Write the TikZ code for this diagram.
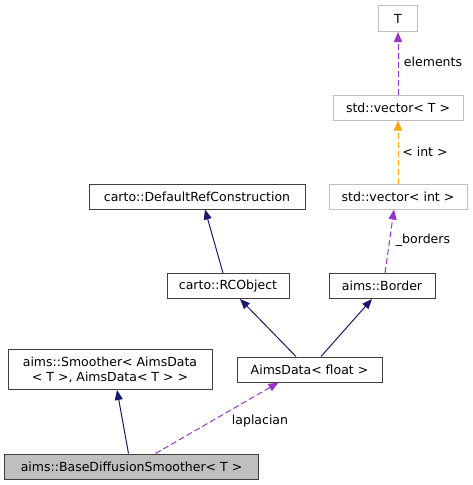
\documentclass[tikz,border=0pt]{standalone}
\usepackage{fontspec}
\setmainfont{DejaVu Sans}
\usetikzlibrary{arrows.meta}
\definecolor{navy}{HTML}{191970}
\definecolor{purp}{HTML}{9A32CD}
\definecolor{orng}{HTML}{FFA500}
\definecolor{edgeg}{HTML}{404040}
\definecolor{lightg}{HTML}{BFBFBF}
\begin{document}
\begin{tikzpicture}[x=1pt,y=-1pt,
  font=\fontsize{12.5}{15}\selectfont,
  cls/.style={draw=edgeg,line width=1pt,inner sep=0pt,align=center,anchor=center},
  ext/.style={draw=lightg,line width=1pt,inner sep=0pt,align=center,anchor=center},
  inh/.style={draw=navy,line width=1pt,-{Triangle[length=10pt,width=8pt]}},
  use/.style={draw=purp,line width=1pt,dash pattern=on 6pt off 3pt,-{Triangle[length=10pt,width=8pt,fill=purp]}},
  tmpl/.style={draw=orng,line width=1pt,dash pattern=on 6pt off 3pt,-{Triangle[length=10pt,width=8pt,fill=orng]}},
  lbl/.style={inner sep=0pt,anchor=center}
]
\useasboundingbox (0,0) rectangle (473,485);
\node[ext,minimum width=39pt,minimum height=26pt] (T) at (398,18.5) {T};
\node[ext,minimum width=130pt,minimum height=25pt] (vecT) at (398,107.5) {std::vector< T >};
\node[ext,minimum width=138pt,minimum height=25pt] (vecI) at (398,196.5) {std::vector< int >};
\node[cls,minimum width=216pt,minimum height=25pt] (drc) at (197,196.5) {carto::DefaultRefConstruction};
\node[cls,minimum width=122pt,minimum height=25pt] (rco) at (228,286) {carto::RCObject};
\node[cls,minimum width=106pt,minimum height=25pt] (brd) at (382,286) {aims::Border};
\node[cls,minimum width=204pt,minimum height=40pt] (smo) at (110,369.5) {aims::Smoother< AimsData\\< T >, AimsData< T > >};
\node[cls,minimum width=145pt,minimum height=25pt] (ad) at (309.5,369.5) {AimsData< float >};
\node[cls,fill=lightg,minimum width=254pt,minimum height=25pt] (base) at (131.5,466.5) {aims::BaseDiffusionSmoother< T >};

\draw[inh] ([xshift=-3pt]base.north) -- ([xshift=7pt]smo.south);
\draw[use] ([xshift=24pt]base.north) -- ([xshift=-31pt]ad.south);
\draw[inh] ([xshift=-13.5pt]ad.north) -- ([xshift=12pt]rco.south);
\draw[inh] ([xshift=11.5pt]ad.north) -- ([xshift=-10pt]brd.south);
\draw[inh] ([xshift=-5pt]rco.north) -- ([xshift=8pt]drc.south);
\draw[use] ([xshift=3pt]brd.north) -- ([xshift=-4pt]vecI.south);
\draw[tmpl] (vecI.north) -- (vecT.south);
\draw[use] (vecT.north) -- (T.south);

\node[lbl] (l1) at (260,421) {laplacian};
\node[lbl] (l2) at (423,240) {\_borders};
\node[lbl] (l3) at (425,152) {< int >};
\node[lbl] (l4) at (433,62) {elements};
\end{tikzpicture}
\end{document}
